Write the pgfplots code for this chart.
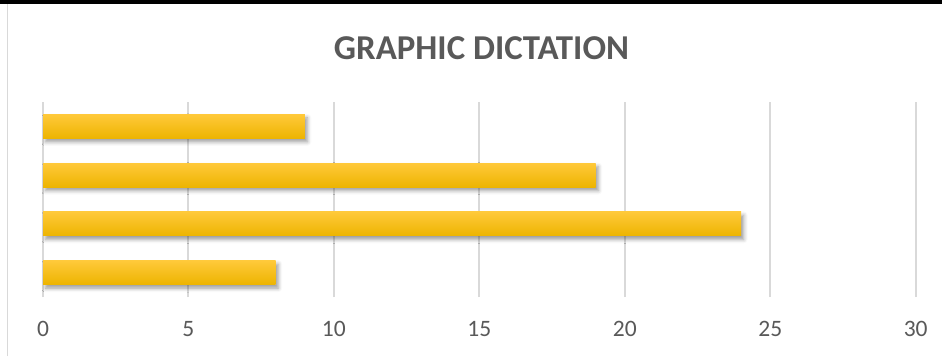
\documentclass[border=0pt]{standalone}
\usepackage{fontspec}
\setmainfont{Carlito}
\usepackage{pgfplots}
\pgfplotsset{compat=1.18}
\usetikzlibrary{shadows.blur}

\definecolor{txtgray}{HTML}{595959}
\definecolor{gridgray}{HTML}{D9D9D9}
\definecolor{barmid}{HTML}{FFC000}
\definecolor{bartop}{HTML}{FFC93A}
\definecolor{barbot}{HTML}{EDB400}

\begin{document}
\begin{tikzpicture}[x=1bp,y=1bp]
\useasboundingbox (0,0) rectangle (942,356);
% frame: dark strip along the top, thin rule on the left
\fill[black] (0,352) rectangle (942,356);
\draw[gridgray, line width=1.5bp] (7.5,0) -- (7.5,352);
% chart title
\node[text=txtgray, font=\fontsize{35}{42}\selectfont\bfseries, inner sep=0pt] at (481.5,308) {GRAPHIC DICTATION};
\begin{axis}[
  at={(43bp,59bp)}, anchor=south west, scale only axis,
  width=872.7bp, height=195bp,
  xmin=0, xmax=30, ymin=0.5, ymax=4.5,
  xtick={0,5,...,30}, ytick=\empty,
  xmajorgrids, grid style={gridgray, line width=2bp},
  axis line style={draw=none}, major tick length=0pt,
  xbar, bar width=24bp, no markers,
  xticklabel style={anchor=base, yshift=-39bp, text=txtgray,
    font=\fontsize{23.6}{28}\selectfont},
  /pgf/number format/assume math mode=true,
  clip=false,
]
\pgfplotsset{every axis plot/.append style={
  draw=none, bar shift=0pt,
  top color=bartop, middle color=barmid, bottom color=barbot,
  blur shadow={shadow xshift=2.5bp, shadow yshift=-3.5bp,
    shadow blur radius=4bp, shadow opacity=40}}}
% one plot per bar so each gets its own vertical gradient
\addplot coordinates {(8,1)};
\addplot coordinates {(24,2)};
\addplot coordinates {(19,3)};
\addplot coordinates {(9,4)};
\end{axis}
\end{tikzpicture}
\end{document}
